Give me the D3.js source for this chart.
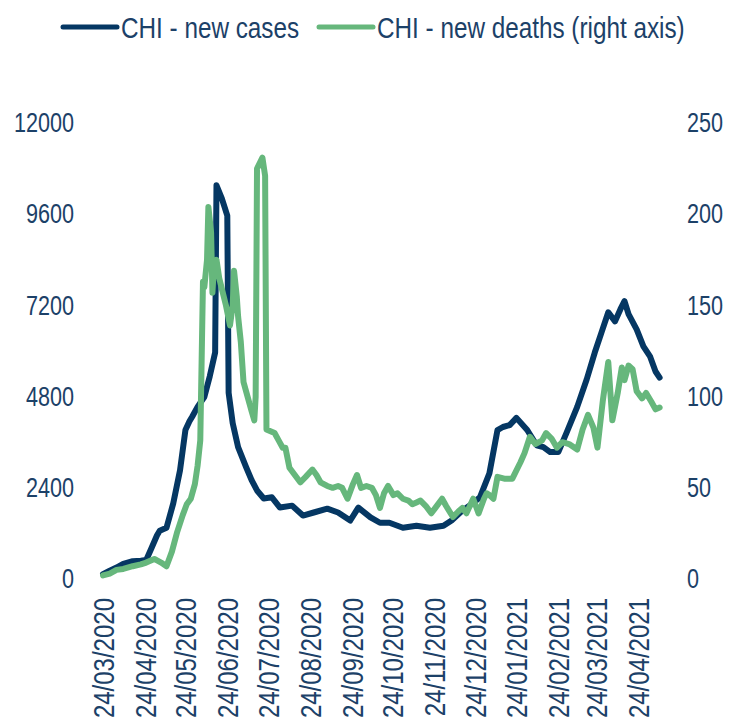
<!DOCTYPE html>
<html>
<head>
<meta charset="utf-8">
<script src="https://cdn.jsdelivr.net/npm/d3@7"></script>
<style>
	body { margin: 0; background: #fff; }
	svg { display: block; }
	.axis text, .legend text { font-family: "Liberation Sans", Arial, sans-serif; fill: #1c4168; }
	.line { fill: none; stroke-linejoin: round; stroke-linecap: round; }
</style>
</head>
<body>
<svg></svg>
<script>
// days counted from 24/03/2020
var startDate = "2020-03-24";
var caseDays = [0, 5, 10, 15, 22, 28, 32, 36, 40, 42, 47, 52, 57, 61, 64, 66, 70, 75, 79, 83, 84, 88, 92, 93, 96, 100, 106, 110, 114, 119, 125, 131, 140, 148, 156, 166, 174, 183, 189, 198, 205, 212, 222, 232, 242, 252, 258, 266, 272, 279, 286, 292, 296, 301, 306, 314, 321, 326, 331, 337, 343, 351, 358, 364, 369, 374, 379, 383, 386, 389, 395, 400, 405, 409, 412];
var caseValues = [130, 220, 300, 400, 470, 480, 500, 820, 1150, 1270, 1350, 1990, 2860, 3920, 4150, 4270, 4530, 4790, 5330, 5960, 10360, 10010, 9560, 4900, 4100, 3470, 2940, 2600, 2330, 2120, 2150, 1880, 1930, 1670, 1750, 1850, 1750, 1540, 1880, 1620, 1480, 1480, 1350, 1400, 1350, 1400, 1540, 1800, 1950, 2150, 2780, 3920, 4000, 4050, 4240, 3920, 3520, 3470, 3340, 3340, 3840, 4530, 5250, 5960, 6490, 7020, 6780, 7100, 7310, 6970, 6570, 6120, 5850, 5460, 5300];
var deathDays = [0, 5, 10, 15, 22, 28, 32, 38, 43, 47, 51, 55, 59, 62, 65, 68, 70, 72, 74, 75, 77, 78, 80, 81, 82, 84, 86, 88, 91, 94, 96, 97, 99, 100, 102, 104, 107, 110, 112, 113, 114, 116, 118, 120, 121, 124, 127, 130, 133, 135, 138, 142, 146, 150, 155, 158, 161, 166, 170, 174, 177, 181, 185, 188, 191, 195, 199, 202, 205, 208, 211, 215, 218, 222, 226, 229, 232, 235, 239, 243, 246, 251, 254, 259, 263, 266, 269, 274, 278, 282, 284, 286, 289, 292, 297, 303, 309, 312, 316, 320, 325, 328, 332, 336, 340, 345, 351, 355, 359, 363, 366, 370, 374, 377, 381, 384, 386, 389, 392, 395, 399, 402, 406, 409, 412];
var deathValues = [2, 3, 5, 5.5, 7, 8, 9, 11, 9, 7, 15, 26, 35, 41, 44, 52, 62, 76, 163, 160, 175, 204, 190, 157, 170, 175, 165, 159, 150, 139, 150, 169, 155, 144, 130, 108, 100, 92, 87, 100, 225, 228, 231, 221, 82, 81, 80, 76, 72, 72, 61, 57, 53, 56, 60, 57, 53, 51, 50, 51, 50, 44, 52, 57, 50, 51, 50, 46, 39, 47, 51, 46, 47, 44, 43, 41, 42, 43, 40, 36, 39, 44, 40, 34, 37, 39, 36, 44, 36, 44, 47, 46, 44, 56, 55, 55, 64, 69, 78, 74, 76, 80, 77, 72, 75, 74, 71, 82, 90, 83, 72, 98, 119, 87, 102, 116, 109, 117, 115, 103, 99, 102, 97, 93, 94];
var leftTicks = [0, 2400, 4800, 7200, 9600, 12000];
var rightTicks = [0, 50, 100, 150, 200, 250];
var monthTicks = 13;
var seriesNames = ["CHI - new cases", "CHI - new deaths (right axis)"];
var colors = ["#053763", "#66b77c"];

var width = 730, height = 719;
var narrow = 0.8; // the reference uses a condensed face
var start = d3.utcParse("%Y-%m-%d")(startDate);
var toDate = function(d) { return d3.utcDay.offset(start, d); };

var x = d3.scaleUtc().domain([start, d3.utcMonth.offset(start, monthTicks)]).range([103, 638]);
var yL = d3.scaleLinear().domain([0, 12000]).range([579, 123]);
var yR = d3.scaleLinear().domain([0, 250]).range([579, 123]);

var svg = d3.select("svg").attr("width", width).attr("height", height);

// Axes
var xTicks = d3.range(monthTicks + 1).map(function(i) { return d3.utcMonth.offset(start, i); });
var gx = svg.append("g").attr("class", "axis").attr("transform", "translate(0,598)")
	.call(d3.axisBottom(x).tickValues(xTicks).tickSize(0).tickPadding(0).tickFormat(d3.utcFormat("%d/%m/%Y")));
gx.select(".domain").remove();
gx.selectAll("text")
	.attr("transform", "rotate(-90) scale(" + narrow + ",1)")
	.attr("text-anchor", "end")
	.attr("x", 0).attr("y", 0).attr("dy", "0.35em")
	.style("font-size", "30px");

var gl = svg.append("g").attr("class", "axis").attr("transform", "translate(74,0)")
	.call(d3.axisLeft(yL).tickValues(leftTicks).tickSize(0).tickPadding(0).tickFormat(d3.format("d")));
gl.select(".domain").remove();
gl.selectAll("text").attr("transform", "scale(" + narrow + ",1)").style("font-size", "27px");

var gr = svg.append("g").attr("class", "axis").attr("transform", "translate(687,0)")
	.call(d3.axisRight(yR).tickValues(rightTicks).tickSize(0).tickPadding(0));
gr.select(".domain").remove();
gr.selectAll("text").attr("transform", "scale(" + narrow + ",1)").style("font-size", "27px");

// Lines
var cases = caseDays.map(function(d, i) { return {date: toDate(d), value: caseValues[i]}; });
var deaths = deathDays.map(function(d, i) { return {date: toDate(d), value: deathValues[i]}; });

svg.append("path").attr("class", "line").datum(cases)
	.attr("d", d3.line().x(function(d) { return x(d.date); }).y(function(d) { return yL(d.value); }))
	.style("stroke", colors[0]).style("stroke-width", 6);
svg.append("path").attr("class", "line").datum(deaths)
	.attr("d", d3.line().x(function(d) { return x(d.date); }).y(function(d) { return yR(d.value); }))
	.style("stroke", colors[1]).style("stroke-width", 6);

// Legend
var legendX = [63, 319];
var legend = svg.selectAll(".legend").data(seriesNames).enter().append("g").attr("class", "legend")
	.attr("transform", function(d, i) { return "translate(" + legendX[i] + ",27)"; });
legend.append("line").attr("x1", 0).attr("x2", 54).attr("y1", 0).attr("y2", 0)
	.style("stroke", function(d, i) { return colors[i]; }).style("stroke-width", 5).style("stroke-linecap", "round");
legend.append("text").attr("transform", "translate(58,0) scale(0.81,1)")
	.attr("dy", "0.35em").style("font-size", "30px")
	.text(function(d) { return d; });
</script>
</body>
</html>
